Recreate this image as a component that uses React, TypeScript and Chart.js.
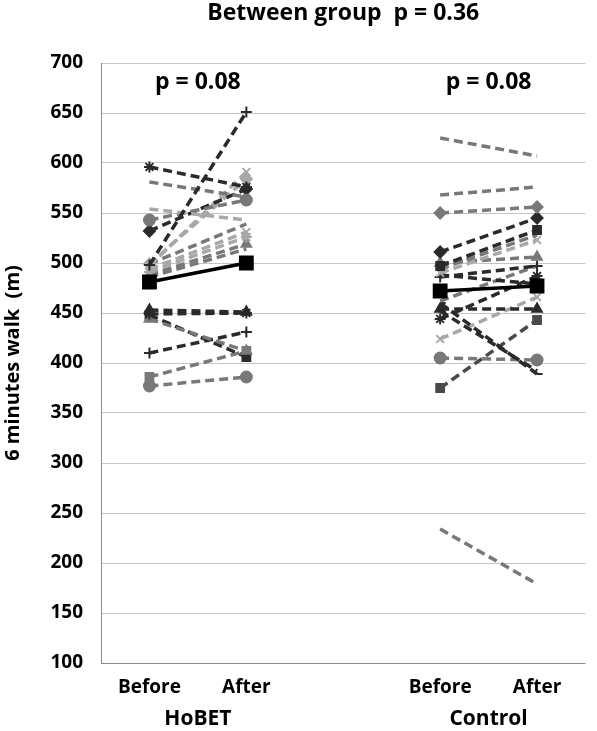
import React, { useEffect, useRef } from 'react';
import { Chart, registerables } from 'chart.js';

Chart.register(...registerables);

// ---- text / categories ----
const xLabels = ['Before', 'After', '', 'Before', 'After'];
const groupLabels = ['HoBET', 'Control'];
const groupPValues = ['p = 0.08', 'p = 0.08'];
const titleText = 'Between group  p = 0.36';
const yTitle = '6 minutes walk  (m)';
const yMin = 100;
const yMax = 700;
const yStep = 50;

// ---- HoBET individual values ----
const hobetBefore = [498, 596, 581, 554, 543, 532, 497, 499, 499, 494, 491, 488, 486, 453, 449, 444, 448, 410, 386, 377];
const hobetAfter = [651, 576, 566, 543, 563, 574, 591, 584, 539, 531, 526, 519, 514, 451, 450, 412, 406, 431, 412, 386];
const hobetTone = ['dark', 'dark', 'mid', 'light', 'mid', 'dark', 'light', 'light', 'mid', 'light', 'light', 'mid', 'mid', 'dark', 'dark', 'mid', 'dark', 'dark', 'mid', 'mid'];
const hobetMarker = ['cross', 'star', 'none', 'none', 'circle', 'rectRot', 'crossRot', 'rectRot', 'none', 'crossRot', 'star', 'triangle', 'none', 'triangle', 'star', 'triangle', 'rect', 'cross', 'rect', 'circle'];

// ---- Control individual values ----
const controlBefore = [625, 568, 550, 511, 497, 494, 490, 500, 488, 486, 462, 460, 452, 444, 454, 424, 405, 375, 234];
const controlAfter = [607, 576, 556, 545, 533, 528, 523, 506, 479, 497, 497, 389, 392, 487, 454, 466, 403, 443, 179];
const controlTone = ['mid', 'mid', 'mid', 'dark', 'dark', 'mid', 'light', 'mid', 'dark', 'dark', 'mid', 'dark', 'dark', 'dark', 'dark', 'light', 'mid', 'dark2', 'mid'];
const controlMarker = ['none', 'none', 'rectRot', 'rectRot', 'rect', 'none', 'crossRot', 'triangle', 'none', 'cross', 'none', 'dash', 'none', 'star', 'triangle', 'crossRot', 'circle', 'rect', 'none'];

// ---- group means ----
const hobetMean = [481, 500];
const controlMean = [472, 477];

const toneColor: Record<string, string> = {
  dark: '#2a2a2a',
  dark2: '#4a4a4a',
  mid: '#787878',
  light: '#a8a8a8',
};

const FONT = '"Open Sans", Lato, sans-serif';

function pairData(groupIndex: number, before: number, after: number) {
  const d: (number | null)[] = [null, null, null, null, null];
  const base = groupIndex === 0 ? 0 : 3;
  d[base] = before;
  d[base + 1] = after;
  return d;
}

function individualDatasets(groupIndex: number, before: number[], after: number[], tone: string[], marker: string[]) {
  return before.map((b, i) => {
    const c = toneColor[tone[i]];
    const m = marker[i];
    return {
      type: 'line' as const,
      data: pairData(groupIndex, b, after[i]),
      borderColor: c,
      backgroundColor: c,
      borderWidth: 3.5,
      borderDash: [9, 5],
      borderCapStyle: 'butt' as const,
      pointStyle: m === 'none' ? 'circle' : m,
      pointRadius: m === 'none' ? 0 : 5.5,
      pointBorderWidth: 2,
      pointBorderColor: c,
      pointBackgroundColor: c,
      spanGaps: false,
      order: 10,
    };
  });
}

function meanDataset(groupIndex: number, vals: number[]) {
  return {
    type: 'line' as const,
    data: pairData(groupIndex, vals[0], vals[1]),
    borderColor: '#000',
    backgroundColor: '#000',
    borderWidth: 3.5,
    pointStyle: 'rect',
    pointRadius: 8,
    pointBorderColor: '#000',
    pointBackgroundColor: '#000',
    spanGaps: false,
    order: 0,
  };
}

const textPlugin = {
  id: 'textPlugin',
  afterDraw(chart: any) {
    const { ctx, chartArea } = chart;
    const xs = chart.scales.x;
    const ys = chart.scales.y;
    ctx.save();
    ctx.fillStyle = '#000';
    ctx.textAlign = 'center';
    ctx.textBaseline = 'middle';

    // main title
    ctx.font = `bold 23px ${FONT}`;
    ctx.fillText(titleText, (chartArea.left + chartArea.right) / 2, 13);

    // group p-values and group labels
    groupLabels.forEach((g, gi) => {
      const i0 = gi === 0 ? 0 : 3;
      const cx = (xs.getPixelForValue(i0) + xs.getPixelForValue(i0 + 1)) / 2;
      ctx.font = `bold 23px ${FONT}`;
      ctx.fillText(groupPValues[gi], cx, ys.top + 19);
      ctx.font = `bold 21px ${FONT}`;
      ctx.fillText(g, cx, ys.bottom + 56);
    });

    // Before / After labels
    ctx.font = `bold 19px ${FONT}`;
    xLabels.forEach((l, i) => {
      if (!l) return;
      ctx.fillText(l, xs.getPixelForValue(i), ys.bottom + 25);
    });

    // y-axis title
    ctx.save();
    ctx.translate(13, (chartArea.top + chartArea.bottom) / 2);
    ctx.rotate(-Math.PI / 2);
    ctx.font = `bold 20px ${FONT}`;
    ctx.fillText(yTitle, 0, 0);
    ctx.restore();

    ctx.restore();
  },
};

export default function App() {
  const ref = useRef<HTMLCanvasElement | null>(null);
  useEffect(() => {
    document.body.style.margin = '0';
    const canvas = ref.current;
    if (!canvas) return;
    const datasets: any[] = [
      meanDataset(0, hobetMean),
      meanDataset(1, controlMean),
      ...individualDatasets(0, hobetBefore, hobetAfter, hobetTone, hobetMarker),
      ...individualDatasets(1, controlBefore, controlAfter, controlTone, controlMarker),
    ];
    const chart = new Chart(canvas, {
      type: 'line',
      data: { labels: xLabels, datasets },
      options: {
        responsive: false,
        animation: false,
        events: [],
        devicePixelRatio: 1,
        layout: { padding: { top: 63, bottom: 68, left: 0, right: 0 } },
        plugins: { legend: { display: false }, tooltip: { enabled: false }, title: { display: false } },
        scales: {
          x: {
            type: 'category',
            offset: true,
            display: false,
          },
          y: {
            min: yMin,
            max: yMax,
            afterFit(scale: any) {
              scale.width = 101;
            },
            ticks: {
              stepSize: yStep,
              color: '#000',
              padding: 18,
              font: { family: FONT, size: 19, weight: 'bold' },
            },
            grid: {
              drawTicks: false,
              color: (c: any) => (c.tick && c.tick.value === yMin ? '#8c8c8c' : '#c4c4c4'),
              lineWidth: 1,
            },
            border: { display: true, color: '#8c8c8c', width: 1 },
          },
        },
      },
      plugins: [textPlugin],
    });
    return () => chart.destroy();
  }, []);
  return <canvas ref={ref} width={597} height={731} style={{ display: 'block' }} />;
}
